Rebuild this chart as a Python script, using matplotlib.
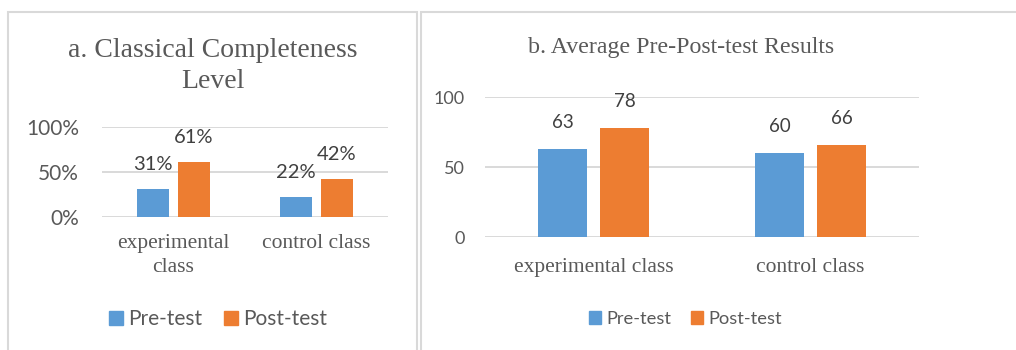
import matplotlib
matplotlib.use("Agg")
import matplotlib.pyplot as plt
from matplotlib.patches import Rectangle, Patch
import numpy as np

# ---- data ----
categories_a = ["experimental\nclass", "control class"]
pre_a = [0.31, 0.22]
post_a = [0.61, 0.42]
yticks_a = [0, 0.5, 1.0]
ytick_labels_a = ["0%", "50%", "100%"]

categories_b = ["experimental class", "control class"]
pre_b = [63, 60]
post_b = [78, 66]
yticks_b = [0, 50, 100]
ytick_labels_b = ["0", "50", "100"]

series_names = ["Pre-test", "Post-test"]
title_a = "a. Classical Completeness\nLevel"
title_b = "b. Average Pre-Post-test Results"

# ---- style ----
BLUE = "#5B9BD5"
ORANGE = "#ED7D31"
GRID = "#D9D9D9"
TXT = "#595959"
LBL = "#404040"
SERIF = "Liberation Serif"
SANS = "Lato"

W, H = 1016, 350
DPI = 100
fig = plt.figure(figsize=(W / DPI, H / DPI), dpi=DPI)
PX = 72.0 / DPI  # points per pixel


def fx(x):
    return x / W


def fy(y):
    return 1 - y / H


# panel borders
for (x0, x1) in [(8, 417), (420.5, 1040)]:
    fig.patches.append(Rectangle((fx(x0), fy(400)), fx(x1 - x0), (400 - 12) / H,
                                 transform=fig.transFigure, fill=False,
                                 edgecolor=GRID, linewidth=1.5, zorder=0))


def make_panel(rect_px, cats, pre, post, yticks, ylabels, ylim, tick_fs, lbl_fs,
               xt_fs, xt_pad, yt_pad, fmt, label_off):
    l, t, r, b = rect_px
    ax = fig.add_axes([fx(l), fy(b), fx(r - l), (b - t) / H])
    x = np.arange(len(cats))
    off, bw = 0.143, 0.224
    b1 = ax.bar(x - off, pre, bw, color=BLUE, zorder=3)
    b2 = ax.bar(x + off, post, bw, color=ORANGE, zorder=3)
    for bars, vals in [(b1, pre), (b2, post)]:
        for rect, v in zip(bars, vals):
            ax.annotate(fmt(v), (rect.get_x() + rect.get_width() / 2, v),
                        xytext=(0, label_off * PX), textcoords="offset points",
                        ha="center", va="center", fontsize=lbl_fs,
                        family=SANS, color=LBL)
    ax.set_xlim(-0.5, len(cats) - 0.5)
    ax.set_ylim(*ylim)
    ax.set_yticks(yticks)
    ax.set_yticklabels(ylabels, family=SANS, fontsize=tick_fs, color=TXT)
    ax.set_xticks(x)
    ax.set_xticklabels(cats, fontsize=xt_fs, color=TXT)
    for tl in ax.get_xticklabels():
        tl.set_fontfamily(SERIF)
        tl.set_linespacing(1.3)
    ax.tick_params(axis="both", length=0)
    ax.tick_params(axis="x", pad=xt_pad)
    ax.tick_params(axis="y", pad=yt_pad)
    for s in ax.spines.values():
        s.set_visible(False)
    ax.yaxis.grid(True, color=GRID, linewidth=1.4, zorder=0)
    ax.set_axisbelow(True)
    ax.set_facecolor("none")
    return ax


axA = make_panel((102, 127, 388, 217), categories_a, pre_a, post_a, yticks_a,
                 ytick_labels_a, (0, 1.0), 15, 14.5, 15.5, 12.5, 16.5,
                 lambda v: f"{round(v * 100)}%", 25)
axB = make_panel((485, 97, 919, 237), categories_b, pre_b, post_b, yticks_b,
                 ytick_labels_b, (0, 100), 13, 13.5, 15.5, 15, 14.4,
                 lambda v: f"{v}", 26)

# titles
fig.text(fx(213), fy(66), title_a, ha="center", va="center", family=SERIF,
         fontsize=20, color=TXT, linespacing=1.3)
fig.text(fx(681.5), fy(48), title_b, ha="center", va="center", family=SERIF,
         fontsize=17.2, color=TXT)


# legends
def add_legend(cx, cy, fs, sq_px, gap_px, col_px):
    fs_px = fs / PX
    handles = [Patch(color=BLUE), Patch(color=ORANGE)]
    fig.legend(handles, series_names, loc="center", bbox_to_anchor=(fx(cx), fy(cy)),
               ncol=2, frameon=False, prop={"family": SANS, "size": fs},
               labelcolor=TXT, handlelength=sq_px / fs_px, handleheight=sq_px / fs_px,
               handletextpad=gap_px / fs_px, columnspacing=col_px / fs_px,
               borderpad=0, borderaxespad=0)


add_legend(218, 319, 15, 14, 5, 22)
add_legend(685.5, 319, 13.2, 12, 5, 20)

fig.savefig("out.png", dpi=DPI)
